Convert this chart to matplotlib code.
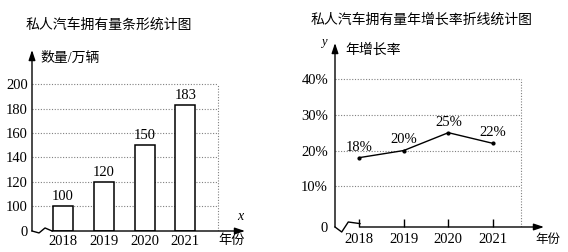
import matplotlib.pyplot as plt
import numpy as np

plt.rcParams['font.family'] = ['Liberation Serif', 'Noto Sans CJK SC']
plt.rcParams['axes.unicode_minus'] = False

# 数据
years = ['2018', '2019', '2020', '2021']
cars = [100, 120, 150, 183]          # 万辆
rates = [18, 20, 25, 22]             # %
car_ticks = [100, 120, 140, 160, 180, 200]
rate_ticks = [10, 20, 30, 40]

W, H = 568, 252
fig = plt.figure(figsize=(W / 100, H / 100), dpi=100)


def box(x0, y0, x1, y1):
    # 像素坐标 -> figure 比例
    return [x0 / W, 1 - y1 / H, (x1 - x0) / W, (y1 - y0) / H]


def fx(x, y):
    return x / W, 1 - y / H


arrow = dict(arrowstyle='-|>,head_length=0.6,head_width=0.2', color='k',
             lw=1, mutation_scale=10, shrinkA=0, shrinkB=0)
dot = (0, (1, 1.5))
xs = np.arange(len(years))

# ---------------- 条形统计图 ----------------
ax1 = fig.add_axes(box(32, 50, 245, 231))
b1 = 79.5  # 折断处
ax1.set_xlim(-0.76, 4.46)
ax1.set_ylim(b1, 228)
for s in ax1.spines.values():
    s.set_visible(False)
ax1.hlines(car_ticks, -0.76, 3.8, colors='#808080', lw=0.8, linestyles=dot, zorder=1)
ax1.vlines(3.8, b1, car_ticks[-1], colors='#808080', lw=0.8, linestyles=dot, zorder=1)
ax1.bar(xs, np.array(cars) - b1, bottom=b1, width=0.49, color='white',
        edgecolor='black', lw=1.1, zorder=3)
for xi, v in zip(xs, cars):
    ax1.annotate(str(v), (xi, v), xytext=(0, 2), textcoords='offset points',
                 ha='center', va='bottom', fontsize=10.5)
ax1.annotate('', xy=(-0.76, 228), xytext=(-0.76, b1), arrowprops=arrow, annotation_clip=False)
ax1.annotate('', xy=(4.46, b1), xytext=(-0.269, b1), arrowprops=arrow, annotation_clip=False)
ax1.plot([-0.759, -0.588, -0.441, -0.269], [b1, 77.9, 82.0, b1], color='k', lw=1, clip_on=False)
ax1.set_yticks([b1] + car_ticks, ['0'] + [str(t) for t in car_ticks], fontsize=10.5)
ax1.set_xticks(xs, years, fontsize=10.5)
ax1.tick_params(axis='y', length=0, pad=3)
ax1.tick_params(axis='x', length=0, pad=3)

fig.text(*fx(26, 25), '私人汽车拥有量条形统计图', fontsize=10, va='center', ha='left')
fig.text(*fx(40, 58), '数量/万辆', fontsize=10, va='center', ha='left')
fig.text(*fx(240, 217), 'x', fontsize=10, style='italic', va='center', ha='center')
fig.text(*fx(232, 241), '年份', fontsize=9.5, va='center', ha='center')

# ---------------- 折线统计图 ----------------
ax2 = fig.add_axes(box(335, 43, 544, 227))
b2 = -1.4
ax2.set_xlim(-0.537, 4.14)
ax2.set_ylim(b2, 50.1)
for s in ax2.spines.values():
    s.set_visible(False)
ax2.hlines(rate_ticks, -0.537, 3.63, colors='#808080', lw=0.8, linestyles=dot, zorder=1)
ax2.vlines(3.63, b2, rate_ticks[-1], colors='#808080', lw=0.8, linestyles=dot, zorder=1)
ax2.plot(xs, rates, color='k', lw=1, marker='o', ms=2, zorder=3)
for xi, v in zip(xs, rates):
    ax2.annotate(f'{v}%', (xi, v), xytext=(0, 3), textcoords='offset points',
                 ha='center', va='bottom', fontsize=10.5)
ax2.annotate('', xy=(-0.537, 50.1), xytext=(-0.537, b2), arrowprops=arrow, annotation_clip=False)
ax2.annotate('', xy=(4.14, b2), xytext=(0.022, b2), arrowprops=arrow, annotation_clip=False)
ax2.plot([-0.537, -0.387, -0.24, 0.022], [b2, -2.8, 0, -0.45], color='k', lw=1, clip_on=False)
ax2.set_yticks([b2] + rate_ticks, ['0'] + [f'{t}%' for t in rate_ticks], fontsize=10.5)
ax2.set_xticks(xs, years, fontsize=10.5)
ax2.tick_params(axis='y', length=0, pad=5)
ax2.tick_params(axis='x', direction='in', length=5.5, width=1, pad=4)

fig.text(*fx(311, 20), '私人汽车拥有量年增长率折线统计图', fontsize=10, va='center', ha='left')
fig.text(*fx(324, 42), 'y', fontsize=9, style='italic', va='center', ha='center')
fig.text(*fx(345, 50), '年增长率', fontsize=10, va='center', ha='left')
fig.text(*fx(548, 240), '年份', fontsize=9, va='center', ha='center')

fig.savefig('out.png', dpi=100)
